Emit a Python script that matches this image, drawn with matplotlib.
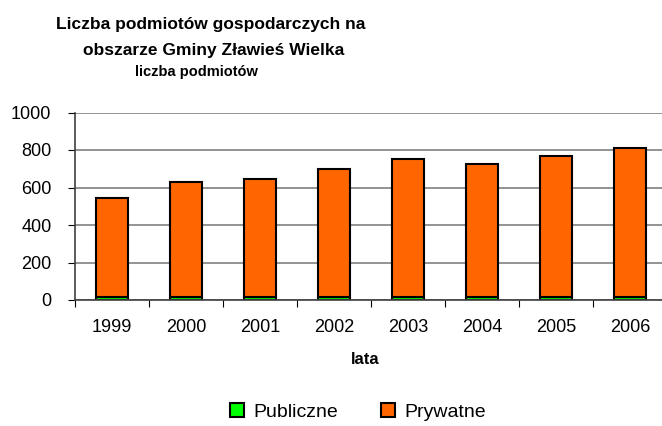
import matplotlib
matplotlib.use("Agg")
import matplotlib.pyplot as plt
import numpy as np

plt.rcParams["font.family"] = ["Liberation Sans", "DejaVu Sans"]

years = ["1999", "2000", "2001", "2002", "2003", "2004", "2005", "2006"]
publiczne = [18, 18, 18, 18, 18, 18, 18, 18]
prywatne = [527, 613, 629, 681, 732, 709, 750, 791]

fig = plt.figure(figsize=(6.62, 4.26), dpi=100)
ax = fig.add_axes([75 / 662, 1 - 300 / 426, 592 / 662, 187.5 / 426])

x = np.arange(len(years))
ax.bar(x, publiczne, width=0.42, color="#00ff00", edgecolor="black",
       linewidth=1.5, label="Publiczne")
ax.bar(x, prywatne, width=0.42, bottom=publiczne, color="#ff6600",
       edgecolor="black", linewidth=1.5, label="Prywatne")

ax.set_xlim(-0.5, len(years) - 0.5)
ax.set_ylim(0, 1000)
ax.set_yticks(range(0, 1001, 200))
ax.set_xticks(np.arange(-0.5, len(years), 1.0), minor=False)
ax.set_xticklabels([])
ax.set_xticks(x, minor=True)
ax.set_xticklabels(years, minor=True)
ax.tick_params(axis="x", which="minor", length=0, labelsize=13, pad=14)
ax.tick_params(axis="x", which="major", length=5, direction="out")
ax.tick_params(axis="y", length=5, direction="out", labelsize=13, pad=12)

ax.yaxis.grid(True, color="#808080", linewidth=1.2)
ax.set_axisbelow(True)
for s in ["top", "right"]:
    ax.spines[s].set_visible(False)
for s in ["left", "bottom"]:
    ax.spines[s].set_color("#404040")
    ax.spines[s].set_linewidth(1.2)

ax.set_xlabel("lata", fontsize=12, fontweight="bold")
ax.xaxis.set_label_coords(365 / 662, 1 - 360 / 426, transform=fig.transFigure)
ax.xaxis.label.set_va("center")

fig.text(211 / 662, 1 - 25 / 426, "Liczba podmiotów gospodarczych na",
         ha="center", va="center", fontsize=12.5, fontweight="bold")
fig.text(214 / 662, 1 - 51 / 426, "obszarze Gminy Zławieś Wielka",
         ha="center", va="center", fontsize=12.5, fontweight="bold")
fig.text(196 / 662, 1 - 72 / 426, "liczba podmiotów",
         ha="center", va="center", fontsize=10.5, fontweight="bold")

ax.legend(loc="center", bbox_to_anchor=(358 / 662, 1 - 412 / 426),
          bbox_transform=fig.transFigure, ncol=2, frameon=False,
          fontsize=14, handlelength=0.7, handleheight=0.7,
          columnspacing=2.2, handletextpad=0.5)

fig.savefig("out.png", dpi=100)
